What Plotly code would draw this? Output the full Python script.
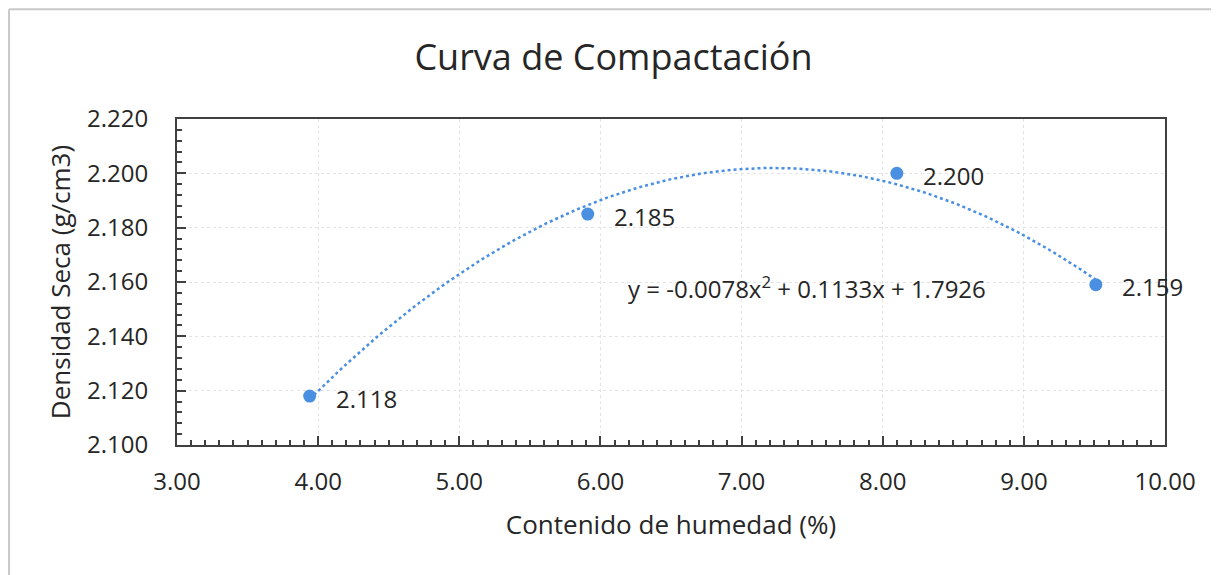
import numpy as np
import plotly.graph_objects as go

# Data
humedad = [3.94, 5.91, 8.10, 9.51]
densidad = [2.118, 2.185, 2.200, 2.159]
labels = ["2.118", "2.185", "2.200", "2.159"]
equation = "y = -0.0078x<sup>2</sup> + 0.1133x + 1.7926"
x_ticks = [3, 4, 5, 6, 7, 8, 9, 10]
y_ticks = [2.10, 2.12, 2.14, 2.16, 2.18, 2.20, 2.22]

# Polynomial (order 2) trendline, as Excel does
coef = np.polyfit(humedad, densidad, 2)
xt = np.linspace(min(humedad), max(humedad), 200)
yt = np.polyval(coef, xt)

BLUE = "#4A8FE2"
FONT = "Open Sans"
TXT = "#262626"

fig = go.Figure()
fig.add_trace(go.Scatter(x=xt, y=yt, mode="lines",
                         line=dict(color=BLUE, width=2.5, dash="dot"),
                         hoverinfo="skip", showlegend=False))
fig.add_trace(go.Scatter(x=humedad, y=densidad, mode="markers",
                         marker=dict(color=BLUE, size=13),
                         showlegend=False))

for xv, yv, lab in zip(humedad, densidad, labels):
    fig.add_annotation(x=xv, y=yv, text=lab, showarrow=False,
                       xanchor="left", yanchor="middle", xshift=24, yshift=-2,
                       font=dict(family=FONT, size=24, color=TXT))

fig.add_annotation(x=7.46, y=2.158, text=equation, showarrow=False,
                   xanchor="center", yanchor="middle",
                   font=dict(family=FONT, size=24, color=TXT))

axis_common = dict(
    showline=True, linecolor="#404040", linewidth=2, mirror=True,
    showgrid=True, gridcolor="#e3e3e3", gridwidth=1, griddash="dot",
    zeroline=False, ticks="inside", ticklen=9, tickwidth=2, tickcolor="#404040",
    tickfont=dict(family=FONT, size=24, color=TXT),
)

fig.update_xaxes(range=[3, 10], tickvals=x_ticks, tickformat=".2f",
                 minor=dict(dtick=0.1, ticks="inside", ticklen=5, tickwidth=1.5,
                            tickcolor="#404040", showgrid=False),
                 title=dict(text="Contenido de humedad (%)",
                            font=dict(family=FONT, size=26, color=TXT),
                            standoff=20),
                 ticklabelstandoff=14,
                 **axis_common)
fig.update_yaxes(range=[2.10, 2.22], tickvals=y_ticks, tickformat=".3f",
                 minor=dict(dtick=0.004, ticks="inside", ticklen=5, tickwidth=1.5,
                            tickcolor="#404040", showgrid=False),
                 title=dict(text="Densidad Seca (g/cm3)",
                            font=dict(family=FONT, size=26, color=TXT),
                            standoff=9),
                 ticklabelstandoff=22,
                 **axis_common)

# The page body has an 8px margin, so the figure is sized to compensate
fig.update_layout(
    width=1211, height=567,
    margin=dict(l=169, r=54, t=111, b=130),
    paper_bgcolor="white", plot_bgcolor="white",
    title=dict(text="Curva de Compactación", x=0.5, xanchor="center",
               y=0.912, yanchor="middle",
               font=dict(family=FONT, size=36, color=TXT)),
    shapes=[
        dict(type="line", xref="paper", yref="paper", x0=-0.17, x1=1.06,
             y0=1.337, y1=1.337, line=dict(color="#c8c8c8", width=2)),
        dict(type="line", xref="paper", yref="paper", x0=-0.17, x1=-0.17,
             y0=1.337, y1=-0.5, line=dict(color="#c8c8c8", width=2)),
    ],
)

fig.write_html("out.html")
